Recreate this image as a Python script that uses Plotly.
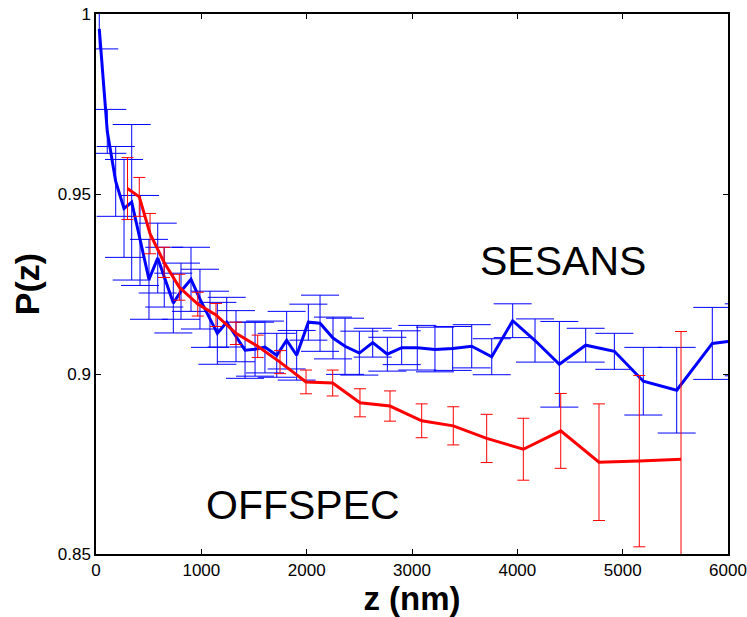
import plotly.graph_objects as go

# SESANS (blue) data
sesans_z = [31, 107, 187, 266, 339, 418, 503, 586, 648, 734, 807, 902, 987, 1082, 1152,
            1241, 1329, 1415, 1510, 1604, 1716, 1810, 1905, 2016, 2127, 2250, 2364, 2500,
            2627, 2766, 2902, 3050, 3218, 3386, 3567, 3757, 3956, 4168, 4399, 4649, 4921,
            5196, 5513, 5851, 6150]
sesans_p = [0.9959, 0.9674, 0.9535, 0.9460, 0.9477, 0.9371, 0.9263, 0.9322, 0.9269, 0.9197,
            0.9230, 0.9263, 0.9208, 0.9152, 0.9113, 0.9144, 0.9105, 0.9066, 0.9069, 0.9075,
            0.9052, 0.9094, 0.9052, 0.9144, 0.9141, 0.9100, 0.9077, 0.9058, 0.9087, 0.9055,
            0.9073, 0.9073, 0.9068, 0.9071, 0.9077, 0.9048, 0.9148, 0.9093, 0.9027, 0.9080,
            0.9063, 0.8980, 0.8955, 0.9085, 0.9095]
sesans_err = [0.0056, 0.0061, 0.0097, 0.0136, 0.0216, 0.0125, 0.0111, 0.0097, 0.0083, 0.0083,
              0.0078, 0.0089, 0.0083, 0.0078, 0.0086, 0.0069, 0.0071, 0.0078, 0.0075, 0.0072,
              0.0061, 0.0080, 0.0069, 0.0050, 0.0078, 0.0058, 0.0078, 0.0061, 0.0040, 0.0047,
              0.0047, 0.0062, 0.0062, 0.0061, 0.0060, 0.0050, 0.0047, 0.0060, 0.0119, 0.0047,
              0.0050, 0.0094, 0.0119, 0.0100, 0.0100]

# OFFSPEC (red) data
offspec_z = [299, 411, 513, 646, 791, 966, 1139, 1329, 1535, 1747, 1994, 2247, 2506, 2791,
             3092, 3392, 3709, 4057, 4412, 4775, 5158, 5554]
offspec_p = [0.9515, 0.9492, 0.9390, 0.9310, 0.9241, 0.9194, 0.9164, 0.9113, 0.9077, 0.9033,
             0.8978, 0.8975, 0.8920, 0.8911, 0.8870, 0.8856, 0.8821, 0.8791, 0.8842, 0.8755,
             0.8758, 0.8763]
offspec_err = [0.0086, 0.0054, 0.0056, 0.0042, 0.0036, 0.0033, 0.0032, 0.0031, 0.0031, 0.0032,
               0.0033, 0.0036, 0.0039, 0.0042, 0.0047, 0.0053, 0.0067, 0.0086, 0.0104, 0.0162,
               0.0238, 0.0355]

x_ticks = [0, 1000, 2000, 3000, 4000, 5000, 6000]
x_tick_labels = ["0", "1000", "2000", "3000", "4000", "5000", "6000"]
y_ticks = [0.85, 0.9, 0.95, 1.0]
y_tick_labels = ["0.85", "0.9", "0.95", "1"]

BLUE = "#0000FF"
RED = "#FF0000"
FONT = "Liberation Sans, Arial, sans-serif"

fig = go.Figure()
fig.add_trace(go.Scatter(
    x=sesans_z, y=sesans_p, mode="lines",
    line=dict(color=BLUE, width=3),
    error_y=dict(type="data", array=sesans_err, visible=True, color=BLUE,
                 thickness=1, width=19),
    name="SESANS", showlegend=False,
))
fig.add_trace(go.Scatter(
    x=offspec_z, y=offspec_p, mode="lines",
    line=dict(color=RED, width=3),
    error_y=dict(type="data", array=offspec_err, visible=True, color=RED,
                 thickness=1, width=6),
    name="OFFSPEC", showlegend=False,
))

fig.add_annotation(x=4434, y=0.9313, xref="x", yref="y", text="SESANS", showarrow=False,
                   font=dict(family=FONT, size=41, color="black"))
fig.add_annotation(x=1965, y=0.8636, xref="x", yref="y", text="OFFSPEC", showarrow=False,
                   font=dict(family=FONT, size=41, color="black"))

axis_common = dict(showgrid=False, zeroline=False, showline=True, linecolor="black",
                   linewidth=1.5, mirror="ticks", ticks="inside", ticklen=5,
                   tickcolor="black", tickwidth=1, automargin=False)

fig.update_xaxes(range=[0, 6000], tickvals=x_ticks, ticktext=x_tick_labels,
                 tickfont=dict(family=FONT, size=17, color="black"),
                 ticklabeloverflow="allow",
                 title=dict(text="<b>z (nm)</b>", font=dict(family=FONT, size=33, color="black"),
                            standoff=0),
                 **axis_common)
fig.update_yaxes(range=[0.85, 1.0], tickvals=y_ticks, ticktext=y_tick_labels,
                 tickfont=dict(family=FONT, size=17, color="black"),
                 ticklabeloverflow="allow",
                 title=dict(text="<b>P(z)</b>", font=dict(family=FONT, size=34, color="black"),
                            standoff=8),
                 **axis_common)

fig.update_layout(
    width=747, height=617,
    margin=dict(l=96, r=19, t=14, b=63),
    paper_bgcolor="white", plot_bgcolor="white",
    showlegend=False,
)

# remove the page's default 8px body margin so the figure fills the window exactly
fig.write_html("out.html", config={"displayModeBar": False},
               post_script="document.body.style.margin='0px';")
